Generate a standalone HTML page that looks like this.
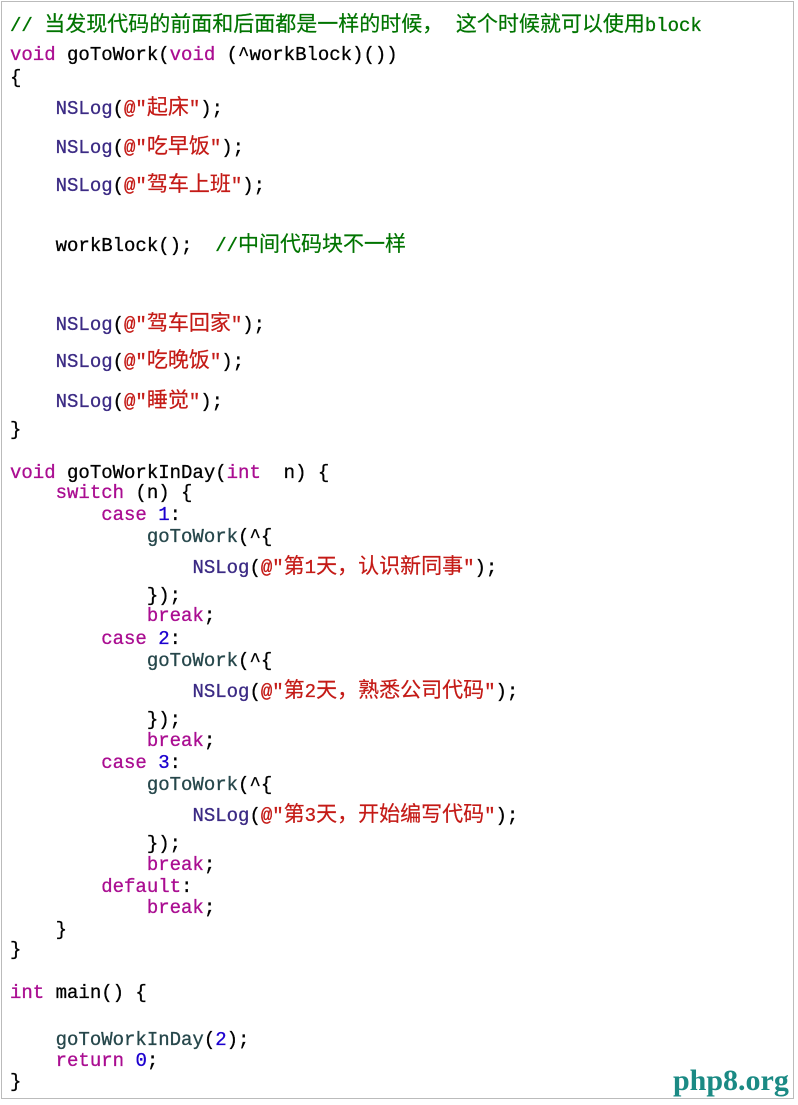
<!DOCTYPE html>
<html><head><meta charset="utf-8"><style>
body{margin:0;width:798px;height:1105px;background:#fff;position:relative;overflow:hidden}
#b{position:absolute;left:1px;top:1px;width:793px;height:1098px;border:1px solid #bbb;box-sizing:border-box}
.l{position:absolute;left:10px;white-space:pre;font-family:"Liberation Mono","Noto Sans CJK SC",monospace;font-size:19px;line-height:22px;color:#000;-webkit-text-stroke:0.3px currentColor}
.z{font-size:21px;-webkit-text-stroke:0.2px currentColor}
.k{color:#aa0d91}.s{color:#c41a16}.n{color:#1c00cf}.c{color:#007400}.f{color:#3b2a84}.g{color:#26474b}
#w{position:absolute;left:673px;top:1064px;font-family:"Liberation Serif",serif;font-weight:bold;font-size:30px;color:#1b8a84}
</style></head><body><div id="b"></div>
<div class="l c" style="top:15px">// <span class="z">当发现代码的前面和后面都是一样的时候， 这个时候就可以使用</span>block</div>
<div class="l" style="top:44px"><span class="k">void</span> goToWork(<span class="k">void</span> (^workBlock)())</div>
<div class="l" style="top:67px">{</div>
<div class="l" style="top:98px">    <span class="f">NSLog</span>(<span class="s">@"<span class="z">起床</span>"</span>);</div>
<div class="l" style="top:137px">    <span class="f">NSLog</span>(<span class="s">@"<span class="z">吃早饭</span>"</span>);</div>
<div class="l" style="top:175px">    <span class="f">NSLog</span>(<span class="s">@"<span class="z">驾车上班</span>"</span>);</div>
<div class="l" style="top:235px">    workBlock();  <span class="c">//<span class="z">中间代码块不一样</span></span></div>
<div class="l" style="top:314px">    <span class="f">NSLog</span>(<span class="s">@"<span class="z">驾车回家</span>"</span>);</div>
<div class="l" style="top:351px">    <span class="f">NSLog</span>(<span class="s">@"<span class="z">吃晚饭</span>"</span>);</div>
<div class="l" style="top:391px">    <span class="f">NSLog</span>(<span class="s">@"<span class="z">睡觉</span>"</span>);</div>
<div class="l" style="top:419px">}</div>
<div class="l" style="top:462px"><span class="k">void</span> goToWorkInDay(<span class="k">int</span>  n) {</div>
<div class="l" style="top:482px">    <span class="k">switch</span> (n) {</div>
<div class="l" style="top:504px">        <span class="k">case</span> <span class="n">1</span>:</div>
<div class="l" style="top:526px">            <span class="g">goToWork</span>(^{</div>
<div class="l" style="top:557px">                <span class="f">NSLog</span>(<span class="s">@"<span class="z">第</span>1<span class="z">天，认识新同事</span>"</span>);</div>
<div class="l" style="top:585px">            });</div>
<div class="l" style="top:605px">            <span class="k">break</span>;</div>
<div class="l" style="top:628px">        <span class="k">case</span> <span class="n">2</span>:</div>
<div class="l" style="top:650px">            <span class="g">goToWork</span>(^{</div>
<div class="l" style="top:681px">                <span class="f">NSLog</span>(<span class="s">@"<span class="z">第</span>2<span class="z">天，熟悉公司代码</span>"</span>);</div>
<div class="l" style="top:709px">            });</div>
<div class="l" style="top:730px">            <span class="k">break</span>;</div>
<div class="l" style="top:752px">        <span class="k">case</span> <span class="n">3</span>:</div>
<div class="l" style="top:774px">            <span class="g">goToWork</span>(^{</div>
<div class="l" style="top:805px">                <span class="f">NSLog</span>(<span class="s">@"<span class="z">第</span>3<span class="z">天，开始编写代码</span>"</span>);</div>
<div class="l" style="top:833px">            });</div>
<div class="l" style="top:854px">            <span class="k">break</span>;</div>
<div class="l" style="top:876px">        <span class="k">default</span>:</div>
<div class="l" style="top:897px">            <span class="k">break</span>;</div>
<div class="l" style="top:919px">    }</div>
<div class="l" style="top:939px">}</div>
<div class="l" style="top:982px"><span class="k">int</span> main() {</div>
<div class="l" style="top:1029px">    <span class="g">goToWorkInDay</span>(<span class="n">2</span>);</div>
<div class="l" style="top:1050px">    <span class="k">return</span> <span class="n">0</span>;</div>
<div class="l" style="top:1071px">}</div>
<div id="w">php8.org</div>
</body></html>
